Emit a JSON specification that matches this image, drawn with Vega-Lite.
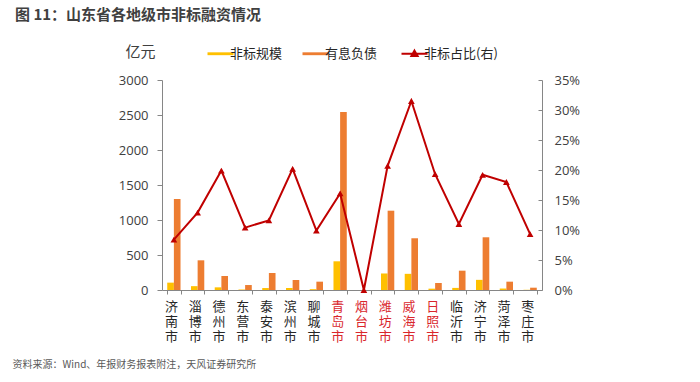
{
  "$schema": "https://vega.github.io/schema/vega-lite/v6.json",
  "width": 380,
  "height": 210,
  "autosize": {"type": "none"},
  "padding": {"left": 162, "top": 80, "right": 158, "bottom": 92},
  "background": "white",
  "title": {
    "text": "图 11：山东省各地级市非标融资情况",
    "anchor": "start",
    "frame": "group",
    "dx": -147,
    "dy": -14,
    "offset": 0,
    "baseline": "middle",
    "fontSize": 15,
    "fontWeight": "bold",
    "color": "#404040",
    "font": "Noto Sans CJK SC"
  },
  "config": {
    "font": "Noto Sans CJK SC",
    "view": {"stroke": null}
  },
  "datasets": {
    "bars": [
      {"city": "济南市", "series": "非标规模", "value": 105},
      {"city": "济南市", "series": "有息负债", "value": 1300},
      {"city": "淄博市", "series": "非标规模", "value": 55},
      {"city": "淄博市", "series": "有息负债", "value": 424},
      {"city": "德州市", "series": "非标规模", "value": 38},
      {"city": "德州市", "series": "有息负债", "value": 200},
      {"city": "东营市", "series": "非标规模", "value": 7},
      {"city": "东营市", "series": "有息负债", "value": 71},
      {"city": "泰安市", "series": "非标规模", "value": 28},
      {"city": "泰安市", "series": "有息负债", "value": 243},
      {"city": "滨州市", "series": "非标规模", "value": 29},
      {"city": "滨州市", "series": "有息负债", "value": 143},
      {"city": "聊城市", "series": "非标规模", "value": 12},
      {"city": "聊城市", "series": "有息负债", "value": 119},
      {"city": "青岛市", "series": "非标规模", "value": 410},
      {"city": "青岛市", "series": "有息负债", "value": 2543},
      {"city": "烟台市", "series": "非标规模", "value": 0},
      {"city": "烟台市", "series": "有息负债", "value": 0},
      {"city": "潍坊市", "series": "非标规模", "value": 236},
      {"city": "潍坊市", "series": "有息负债", "value": 1133},
      {"city": "威海市", "series": "非标规模", "value": 231},
      {"city": "威海市", "series": "有息负债", "value": 739},
      {"city": "日照市", "series": "非标规模", "value": 19},
      {"city": "日照市", "series": "有息负债", "value": 100},
      {"city": "临沂市", "series": "非标规模", "value": 30},
      {"city": "临沂市", "series": "有息负债", "value": 276},
      {"city": "济宁市", "series": "非标规模", "value": 145},
      {"city": "济宁市", "series": "有息负债", "value": 753},
      {"city": "菏泽市", "series": "非标规模", "value": 21},
      {"city": "菏泽市", "series": "有息负债", "value": 119},
      {"city": "枣庄市", "series": "非标规模", "value": 3},
      {"city": "枣庄市", "series": "有息负债", "value": 33}
    ],
    "ratio": [
      {"city": "济南市", "ratio": 0.084},
      {"city": "淄博市", "ratio": 0.129},
      {"city": "德州市", "ratio": 0.199},
      {"city": "东营市", "ratio": 0.104},
      {"city": "泰安市", "ratio": 0.116},
      {"city": "滨州市", "ratio": 0.202},
      {"city": "聊城市", "ratio": 0.099},
      {"city": "青岛市", "ratio": 0.161},
      {"city": "烟台市", "ratio": 0.0},
      {"city": "潍坊市", "ratio": 0.207},
      {"city": "威海市", "ratio": 0.315},
      {"city": "日照市", "ratio": 0.193},
      {"city": "临沂市", "ratio": 0.110},
      {"city": "济宁市", "ratio": 0.192},
      {"city": "菏泽市", "ratio": 0.180},
      {"city": "枣庄市", "ratio": 0.093}
    ]
  },
  "layer": [
    {
      "data": {"name": "bars"},
      "mark": {"type": "bar"},
      "encoding": {
        "x": {
          "field": "city",
          "type": "nominal",
          "sort": null,
          "scale": {
            "domain": ["济南市", "淄博市", "德州市", "东营市", "泰安市", "滨州市", "聊城市", "青岛市", "烟台市", "潍坊市", "威海市", "日照市", "临沂市", "济宁市", "菏泽市", "枣庄市"],
            "paddingInner": 0.44,
            "paddingOuter": 0.22
          },
          "axis": {
            "labelAngle": 0,
            "labelExpr": "split(datum.label, '')",
            "labelLineHeight": 15,
            "labelFontSize": 13,
            "labelBaseline": "top",
            "labelAlign": "center",
            "labelPadding": 6,
            "labelOffset": -3,
            "labelOverlap": false,
            "labelFlush": false,
            "labelColor": {
              "condition": {
                "test": "indexof(['青岛市','烟台市','潍坊市','威海市','日照市'], datum.value) >= 0",
                "value": "#D9262C"
              },
              "value": "#262626"
            },
            "tickBand": "extent",
            "ticks": true,
            "tickSize": 4,
            "tickColor": "#868686",
            "domainColor": "#868686",
            "grid": false,
            "title": "资料来源：Wind、年报财务报表附注，天风证券研究所",
            "titleX": -150,
            "titleY": 74,
            "titleAlign": "left",
            "titleAnchor": "start",
            "titleBaseline": "middle",
            "titleAngle": 0,
            "titleFontSize": 10,
            "titleFontWeight": "normal",
            "titleColor": "#595959"
          }
        },
        "xOffset": {
          "field": "series",
          "type": "nominal",
          "sort": ["非标规模", "有息负债"],
          "scale": {"paddingInner": 0, "paddingOuter": 0}
        },
        "y": {
          "field": "value",
          "type": "quantitative",
          "scale": {"domain": [0, 3000], "nice": false},
          "axis": {
            "values": [0, 500, 1000, 1500, 2000, 2500, 3000],
            "format": "d",
            "grid": false,
            "tickSize": 5,
            "tickColor": "#868686",
            "domainColor": "#868686",
            "labelFontSize": 13,
            "labelColor": "#404040",
            "labelPadding": 9,
            "labelFont": "Open Sans",
            "title": "亿元",
            "titleAngle": 0,
            "titleX": -37,
            "titleY": -29,
            "titleAlign": "left",
            "titleBaseline": "middle",
            "titleFontSize": 15,
            "titleFontWeight": "normal",
            "titleColor": "#404040"
          }
        },
        "color": {
          "field": "series",
          "type": "nominal",
          "scale": {
            "domain": ["非标规模", "有息负债", "非标占比(右)"],
            "range": ["#FFC000", "#ED7D31", "#C00000"]
          },
          "legend": {
            "title": null,
            "orient": "none",
            "direction": "horizontal",
            "legendX": 52,
            "legendY": -33,
            "symbolSize": 676,
            "labelFontSize": 13,
            "labelColor": "#262626",
            "labelOffset": 3,
            "columnPadding": 19,
            "encode": {
              "symbols": {
                "update": {
                  "shape": {"signal": "datum.value === '非标占比(右)' ? 'M-1,0H1M0,-0.24L0.24,0.18L-0.24,0.18Z' : 'M-1,-0.11H1V0.11H-1Z'"},
                  "fill": {"signal": "scale('color', datum.value)"},
                  "stroke": {"signal": "scale('color', datum.value)"},
                  "strokeWidth": {"signal": "datum.value === '非标占比(右)' ? 2 : 0"},
                  "opacity": {"value": 1},
                  "fillOpacity": {"value": 1}
                }
              }
            }
          }
        }
      }
    },
    {
      "data": {"name": "ratio"},
      "mark": {
        "type": "line",
        "strokeWidth": 2,
        "point": {"shape": "triangle-up", "filled": true, "size": 45, "color": "#C00000"}
      },
      "encoding": {
        "x": {"field": "city", "type": "nominal", "sort": null},
        "y": {
          "field": "ratio",
          "type": "quantitative",
          "scale": {"domain": [0, 0.35], "nice": false},
          "axis": {
            "orient": "right",
            "values": [0, 0.05, 0.1, 0.15, 0.2, 0.25, 0.3, 0.35],
            "format": ".0%",
            "grid": false,
            "tickSize": -4,
            "tickColor": "#868686",
            "domainColor": "#868686",
            "labelFontSize": 13,
            "labelColor": "#404040",
            "labelPadding": 16,
            "labelFont": "Open Sans",
            "title": null
          }
        },
        "color": {"datum": "非标占比(右)"}
      }
    }
  ],
  "resolve": {"scale": {"y": "independent"}}
}
